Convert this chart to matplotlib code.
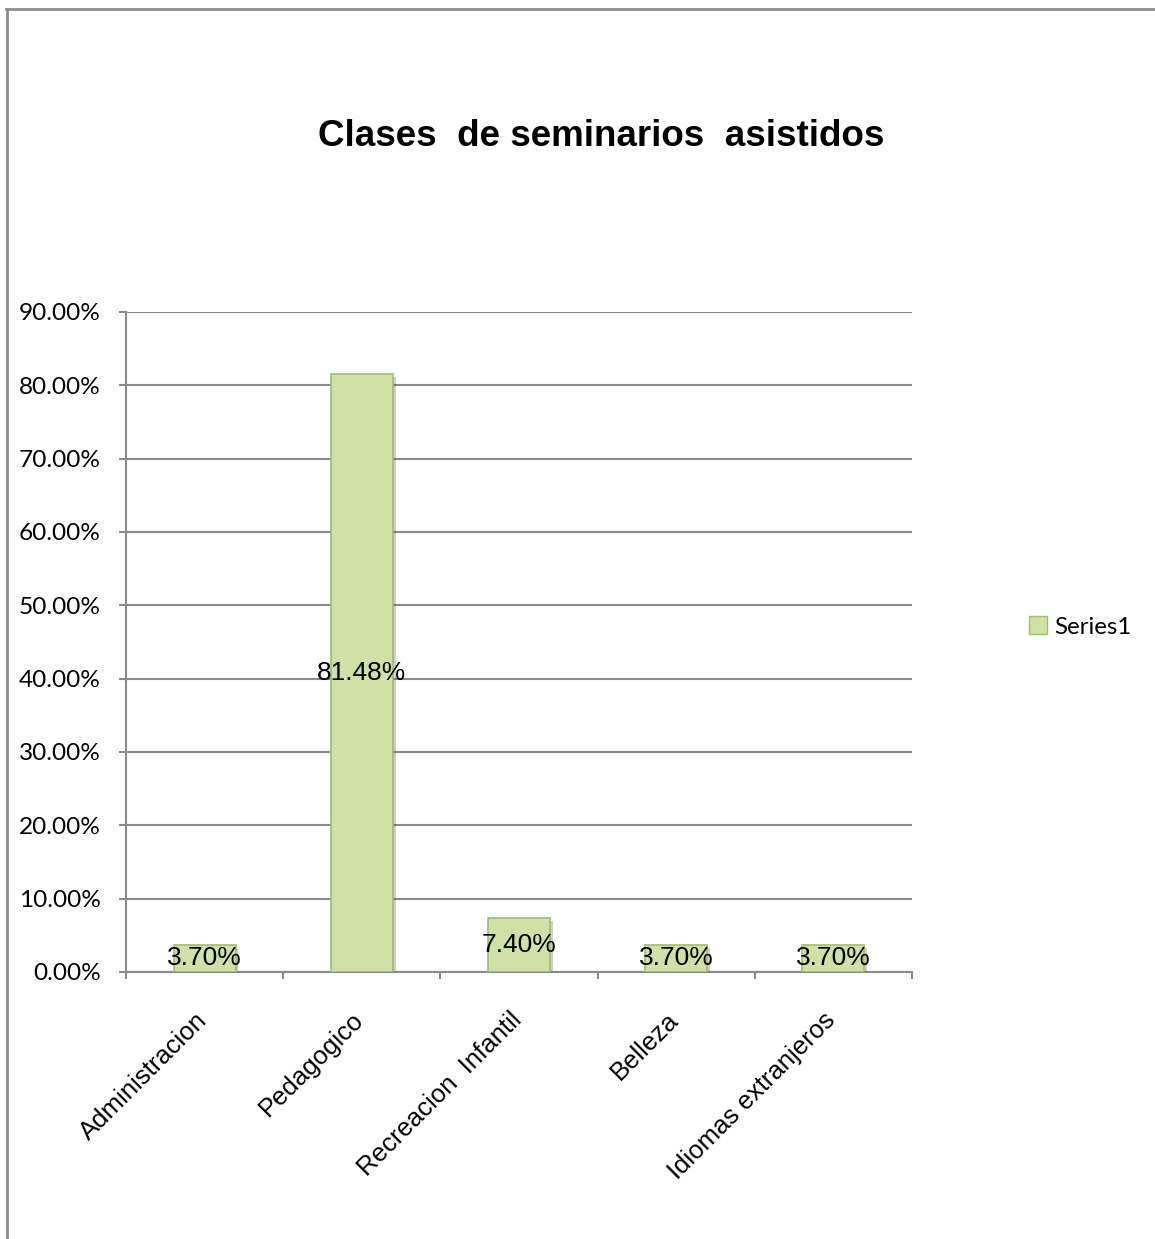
import matplotlib
matplotlib.use('Agg')
import matplotlib.pyplot as plt
import matplotlib.transforms as mtransforms
import matplotlib.patheffects as pe
from matplotlib.patches import Patch
from matplotlib.lines import Line2D
from matplotlib.ticker import FuncFormatter, FixedLocator

# Data
categories = ['Administracion', 'Pedagogico', 'Recreacion  Infantil', 'Belleza', 'Idiomas extranjeros']
values = [3.70, 81.48, 7.40, 3.70, 3.70]
value_labels = ['3.70%', '81.48%', '7.40%', '3.70%', '3.70%']
series_name = 'Series1'
title = 'Clases  de seminarios  asistidos'
y_ticks = [0, 10, 20, 30, 40, 50, 60, 70, 80, 90]

W, H = 1155, 1239
fig = plt.figure(figsize=(W / 100, H / 100), dpi=100)
ax = fig.add_axes([126 / W, 1 - 972 / H, (912 - 126) / W, (972 - 312) / H])

bar_color = '#D1E0A6'
edge_color = '#A3BA72'
grid_color = '#8A8A8A'

x = list(range(len(categories)))
bars = ax.bar(x, values, width=0.395, color=bar_color, edgecolor=edge_color, linewidth=1.2, zorder=3)
for b in bars:
    b.set_path_effects([pe.SimplePatchShadow(offset=(2, -2), alpha=0.25), pe.Normal()])

# data labels, centred in each bar
for xi, v, lab in zip(x, values, value_labels):
    ax.text(xi, v / 2, lab, ha='center', va='center', fontsize=19,
            family='Liberation Sans', color='black', zorder=4)

ax.set_xlim(-0.5, len(categories) - 0.5)
ax.set_ylim(0, 90)

ax.yaxis.set_major_locator(FixedLocator(y_ticks))
ax.yaxis.set_major_formatter(FuncFormatter(lambda v, p: f'{v:.2f}%'))
ax.yaxis.grid(True, color=grid_color, linewidth=1.5, zorder=0)
ax.set_axisbelow(True)

# category labels, rotated, ending just under each category centre
ax.set_xticks(x)
ax.set_xticklabels([''] * len(categories))
ax.tick_params(axis='x', which='major', length=0)
lab_trans = ax.get_xaxis_transform() + mtransforms.ScaledTranslation(-10 / 100, -36 / 100, fig.dpi_scale_trans)
for xi, name in zip(x, categories):
    ax.text(xi, 0, name, transform=lab_trans, rotation=45, ha='right', va='top',
            rotation_mode='anchor', fontsize=18.5, family='Liberation Sans')

ax.set_xticks([i - 0.5 for i in range(len(categories) + 1)], minor=True)
ax.tick_params(axis='x', which='minor', length=5, width=1.5, color=grid_color, direction='out')
ax.tick_params(axis='y', length=5, width=1.5, color=grid_color, labelsize=17.6, pad=13)
for t in ax.get_yticklabels():
    t.set_family('Lato')

for s in ['top', 'right']:
    ax.spines[s].set_visible(False)
for s in ['left', 'bottom']:
    ax.spines[s].set_color(grid_color)
    ax.spines[s].set_linewidth(1.5)

fig.text(601 / W, 1 - 136 / H, title, ha='center', va='center', fontsize=26.5,
         fontweight='bold', family='Liberation Sans')

handle = Patch(facecolor=bar_color, edgecolor=edge_color, linewidth=1)
fig.legend([handle], [series_name], loc='center left', bbox_to_anchor=(1029 / W, 1 - 627 / H),
           frameon=False, prop={'family': 'Lato', 'size': 17.3},
           handlelength=0.75, handleheight=0.75, handletextpad=0.3, borderpad=0, borderaxespad=0)

# outer chart border (only left and top visible)
fig.add_artist(Line2D([7 / W, 7 / W], [0, 1 - 9 / H], transform=fig.transFigure,
                      color='#8C8C8C', linewidth=2))
fig.add_artist(Line2D([6 / W, 1], [1 - 9 / H, 1 - 9 / H], transform=fig.transFigure,
                      color='#8C8C8C', linewidth=2))

fig.savefig('out.png', dpi=100)
